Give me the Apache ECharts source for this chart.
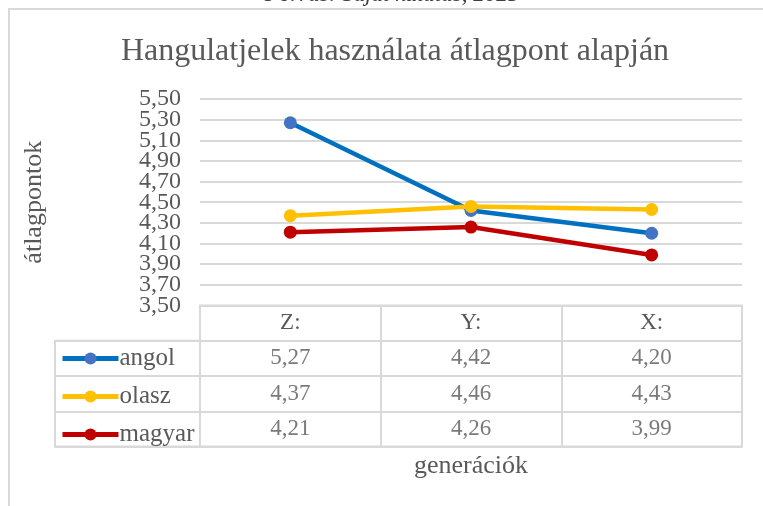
<!DOCTYPE html>
<html>
<head>
<meta charset="utf-8">
<script src="https://cdn.jsdelivr.net/npm/echarts@6/dist/echarts.min.js"></script>
<style>
  html, body { margin: 0; padding: 0; background: #fff; }
  #chart { width: 763px; height: 506px; }
</style>
</head>
<body>
<div id="chart"></div>
<script>
// generációk
const categories = ['Z:', 'Y:', 'X:']
const seriesNames = ['angol', 'olasz', 'magyar']
const angol = [5.27, 4.42, 4.20]
const olasz = [4.37, 4.46, 4.43]
const magyar = [4.21, 4.26, 3.99]
const yTickValues = [3.5, 3.7, 3.9, 4.1, 4.3, 4.5, 4.7, 4.9, 5.1, 5.3, 5.5]

const lineColors = ['#0070C0', '#FFC000', '#C00000']
const markerColors = ['#4472C4', '#FFC000', '#C00000']
const textColor = '#595959'
const gridColor = '#d9d9d9'
const serif = '"Liberation Serif", "Times New Roman", serif'

const fmt = v => v.toFixed(2).replace('.', ',')

const myChart = echarts.init(document.getElementById('chart'))

const allValues = [angol, olasz, magyar]

// table cells
const cellData = []
allValues.forEach((vals, i) => {
  vals.forEach((v, j) => {
    cellData.push([categories[j], seriesNames[i], v])
  })
})

const lineSeries = allValues.map((vals, i) => ({
  name: seriesNames[i],
  type: 'line',
  xAxisIndex: 0,
  yAxisIndex: 0,
  data: vals,
  symbol: 'circle',
  symbolSize: 13,
  lineStyle: { color: lineColors[i], width: 4.5 },
  itemStyle: { color: markerColors[i] },
  z: 3 + i
}))

const baseGraphic = [
  {
    type: 'rect',
    shape: { x: 9, y: 9, width: 780, height: 520 },
    style: { fill: null, stroke: gridColor, lineWidth: 2 },
    silent: true
  },
  {
    type: 'text',
    x: 392,
    y: -5,
    style: {
      text: 'Forrás: Saját kutatás, 2025',
      font: 'italic 23px ' + serif,
      fill: '#404040',
      align: 'center',
      verticalAlign: 'middle'
    }
  }
]

const option = {
  animation: false,
  backgroundColor: '#fff',
  textStyle: { fontFamily: serif },
  title: {
    text: 'Hangulatjelek használata átlagpont alapján',
    left: 390,
    textAlign: 'center',
    top: 31,
    textStyle: { fontFamily: serif, fontSize: 32, fontWeight: 'normal', color: textColor }
  },
  graphic: baseGraphic,
  legend: {
    data: seriesNames,
    orient: 'vertical',
    left: 60,
    top: 346,
    padding: 0,
    itemWidth: 56,
    itemHeight: 15,
    itemGap: 13,
    lineStyle: { width: 5 },
    textStyle: { fontFamily: serif, fontSize: 25, color: textColor, lineHeight: 22, padding: [0, 0, 0, -4] }
  },
  grid: [
    { left: 200, right: 21, top: 99, height: 206.5 },
    { left: 200, right: 21, top: 305.5, height: 141, show: true, borderColor: gridColor, borderWidth: 2 },
    { left: 55, width: 145, top: 340.75, height: 105.75, show: true, borderColor: gridColor, borderWidth: 2 }
  ],
  xAxis: [
    {
      gridIndex: 0,
      type: 'category',
      data: categories,
      boundaryGap: true,
      axisLine: { show: false },
      axisTick: { show: false },
      axisLabel: { color: textColor, fontSize: 23, margin: 6 },
      name: 'generációk',
      nameLocation: 'middle',
      nameGap: 148,
      nameTextStyle: { color: textColor, fontSize: 26 }
    },
    {
      gridIndex: 1,
      type: 'category',
      data: categories,
      axisLine: { show: false },
      axisTick: { show: false },
      axisLabel: { show: false },
      splitLine: { show: true, lineStyle: { color: gridColor, width: 2 } }
    },
    {
      gridIndex: 2,
      type: 'category',
      data: [''],
      axisLine: { show: false },
      axisTick: { show: false },
      axisLabel: { show: false }
    }
  ],
  yAxis: [
    {
      gridIndex: 0,
      type: 'value',
      min: yTickValues[0],
      max: yTickValues[yTickValues.length - 1],
      interval: yTickValues[1] - yTickValues[0],
      axisLine: { show: false },
      axisTick: { show: false },
      // labels drawn below, echarts drops the crowded ones
      axisLabel: { show: false },
      splitLine: { lineStyle: { color: gridColor, width: 2 } },
      name: 'átlagpontok',
      nameLocation: 'middle',
      nameGap: 153,
      nameRotate: 90,
      nameTextStyle: { color: textColor, fontSize: 26 }
    },
    {
      gridIndex: 1,
      type: 'category',
      inverse: true,
      data: [''].concat(seriesNames),
      axisLine: { show: false },
      axisTick: { show: false },
      axisLabel: { show: false },
      splitLine: { show: true, lineStyle: { color: gridColor, width: 2 } }
    },
    {
      gridIndex: 2,
      type: 'category',
      inverse: true,
      data: seriesNames,
      axisLine: { show: false },
      axisTick: { show: false },
      axisLabel: { show: false },
      splitLine: { show: true, lineStyle: { color: gridColor, width: 2 } }
    }
  ],
  series: lineSeries.concat([
    {
      name: 'table',
      type: 'scatter',
      xAxisIndex: 1,
      yAxisIndex: 1,
      data: cellData,
      symbolSize: 1,
      itemStyle: { color: 'rgba(0,0,0,0)' },
      silent: true,
      label: {
        show: true,
        position: 'inside',
        fontFamily: serif,
        fontSize: 23,
        color: textColor,
        formatter: p => fmt(p.value[2])
      }
    }
  ])
}

myChart.setOption(option)

// y tick labels, placed through the axis scale
function drawTickLabels() {
  const labelX = myChart.convertToPixel({ gridIndex: 0 }, [0, yTickValues[0]])
  const left = 200 - 19
  const labels = yTickValues.map(v => ({
    type: 'text',
    x: left,
    y: myChart.convertToPixel({ yAxisIndex: 0 }, v),
    silent: true,
    style: {
      text: fmt(v),
      font: '24px ' + serif,
      fill: textColor,
      align: 'right',
      verticalAlign: 'middle'
    }
  }))
  myChart.setOption({ graphic: baseGraphic.concat(labels) }, { replaceMerge: ['graphic'] })
}
drawTickLabels()

window.addEventListener('resize', () => {
  myChart.resize()
  drawTickLabels()
})
</script>
</body>
</html>
